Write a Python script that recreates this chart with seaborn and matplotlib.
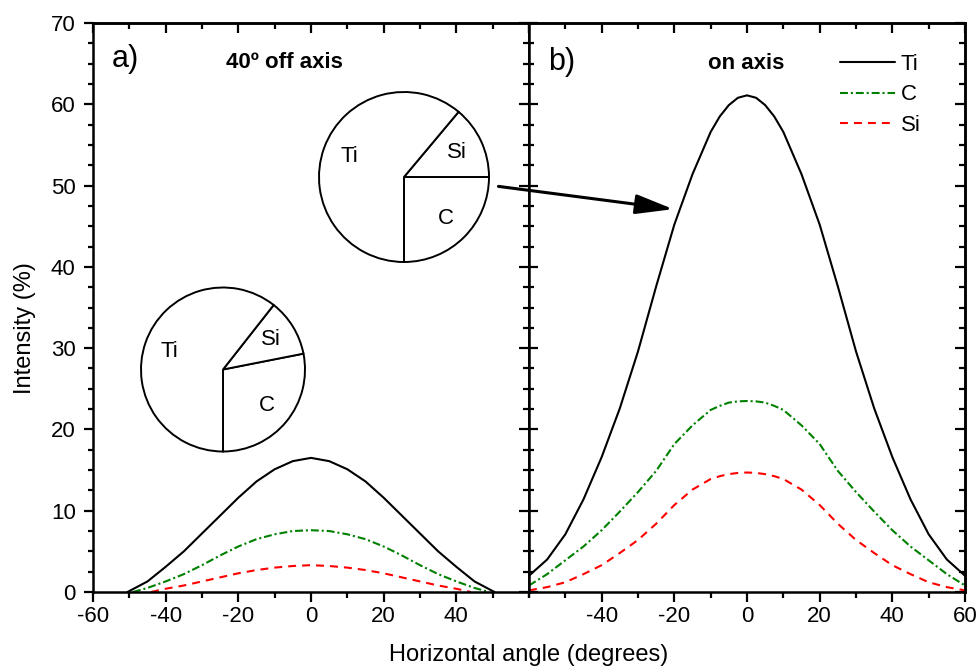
import pandas as pd
import matplotlib
matplotlib.use('Agg')
import matplotlib.pyplot as plt
from matplotlib.ticker import MultipleLocator, NullFormatter
import seaborn as sns

sns.set_style('ticks')
plt.rcParams['font.family'] = ['Liberation Sans', 'DejaVu Sans']
plt.rcParams['axes.unicode_minus'] = False
for key in ['text.color', 'axes.labelcolor', 'xtick.color', 'ytick.color', 'axes.edgecolor']:
    plt.rcParams[key] = 'black'

elements = ['Ti', 'C', 'Si']
colors = {'Ti': 'black', 'C': '#008000', 'Si': '#ff0000'}
dash_map = {'Ti': '', 'C': (3.8, 1.4, 1.0, 1.4), 'Si': (3.8, 2.9)}

# panel a) 40 deg off axis
ti_a_x = [-50.5, -45, -40, -35, -30, -25, -20, -15, -10, -5, 0, 5, 10, 15, 20, 25, 30, 35, 40, 45, 50.5]
ti_a = [0, 1.3, 3.1, 5.0, 7.2, 9.4, 11.6, 13.6, 15.1, 16.1, 16.5, 16.1, 15.1, 13.6, 11.6, 9.4, 7.2, 5.0, 3.1, 1.3, 0]
c_a_x = [-49, -45, -40, -35, -30, -25, -20, -15, -10, -5, 0, 5, 10, 15, 20, 25, 30, 35, 40, 45, 49]
c_a = [0, 0.5, 1.3, 2.2, 3.3, 4.5, 5.6, 6.5, 7.1, 7.5, 7.6, 7.5, 7.1, 6.5, 5.6, 4.5, 3.3, 2.2, 1.3, 0.5, 0]
si_a_x = [-44, -40, -35, -30, -25, -20, -15, -10, -5, 0, 5, 10, 15, 20, 25, 30, 35, 40, 44]
si_a = [0, 0.4, 0.8, 1.3, 1.8, 2.3, 2.7, 3.0, 3.2, 3.3, 3.2, 3.0, 2.7, 2.3, 1.8, 1.3, 0.8, 0.4, 0]

# panel b) on axis
angle_b = [-60, -55, -50, -45, -40, -35, -30, -25, -20, -15, -10, -7.5, -5, -2.5, 0,
           2.5, 5, 7.5, 10, 15, 20, 25, 30, 35, 40, 45, 50, 55, 60]
ti_b = [2.0, 4.0, 7.1, 11.4, 16.6, 22.6, 29.6, 37.6, 45.2, 51.4, 56.6, 58.5, 59.9, 60.8, 61.1,
        60.8, 59.9, 58.5, 56.6, 51.4, 45.2, 37.6, 29.6, 22.6, 16.6, 11.4, 7.1, 4.0, 2.0]
c_b = [0.8, 2.2, 3.9, 5.6, 7.6, 9.9, 12.3, 14.9, 18.2, 20.5, 22.4, 22.9, 23.3, 23.45, 23.5,
       23.45, 23.3, 22.9, 22.4, 20.5, 18.2, 14.9, 12.3, 9.9, 7.6, 5.6, 3.9, 2.2, 0.8]
si_b = [0.2, 0.6, 1.2, 2.2, 3.3, 4.8, 6.4, 8.4, 10.7, 12.6, 13.9, 14.25, 14.5, 14.65, 14.7,
        14.65, 14.5, 14.25, 13.9, 12.6, 10.7, 8.4, 6.4, 4.8, 3.3, 2.2, 1.2, 0.6, 0.2]

# pie insets: share of each element (order C, Si, Ti)
pie_labels = ['C', 'Si', 'Ti']
pie_off_axis = [28.1, 11.3, 60.6]
pie_on_axis = [25.0, 13.9, 61.1]


def long_df(parts):
    frames = [pd.DataFrame({'angle': x, 'intensity': y, 'element': name}) for name, x, y in parts]
    return pd.concat(frames, ignore_index=True)


df_a = long_df([('Ti', ti_a_x, ti_a), ('C', c_a_x, c_a), ('Si', si_a_x, si_a)])
df_b = long_df([('Ti', angle_b, ti_b), ('C', angle_b, c_b), ('Si', angle_b, si_b)])

W, H = 978, 671
fig = plt.figure(figsize=(W / 100, H / 100), dpi=100)
ax_a = fig.add_axes([93 / W, 1 - 592 / H, 436 / W, 569 / H])
ax_b = fig.add_axes([529 / W, 1 - 592 / H, 436 / W, 569 / H])

for ax, df, show_leg in [(ax_a, df_a, False), (ax_b, df_b, True)]:
    sns.lineplot(data=df, x='angle', y='intensity', hue='element', style='element',
                 hue_order=elements, style_order=elements, palette=colors, dashes=dash_map,
                 linewidth=1.5, estimator=None, sort=False, legend=show_leg, ax=ax)


def style_axes(ax, xticks, left_dir, show_ylabels):
    ax.set_xlim(-60, 60)
    ax.set_ylim(0, 70)
    ax.set_xlabel('')
    ax.set_ylabel('')
    ax.set_xticks(xticks)
    ax.xaxis.set_minor_locator(MultipleLocator(10))
    ax.yaxis.set_major_locator(MultipleLocator(10))
    ax.yaxis.set_minor_locator(MultipleLocator(2.5))
    ax.tick_params(axis='x', which='major', direction='out', length=7, width=1.6, labelsize=16, pad=3)
    ax.tick_params(axis='x', which='minor', direction='out', length=4.5, width=1.6)
    ax.tick_params(axis='y', which='major', direction=left_dir, length=6.5, width=1.6,
                   labelsize=16, pad=6, labelleft=show_ylabels)
    ax.tick_params(axis='y', which='minor', direction=left_dir, length=3.8, width=1.6)
    for s in ax.spines.values():
        s.set_linewidth(1.8)
    top = ax.secondary_xaxis('top')
    top.set_xticks(range(-60, 61, 20))
    top.xaxis.set_minor_locator(MultipleLocator(10))
    top.xaxis.set_major_formatter(NullFormatter())
    top.tick_params(which='major', direction='in', length=7, width=1.6)
    top.tick_params(which='minor', direction='in', length=4.5, width=1.6)
    top.spines['top'].set_linewidth(1.8)
    right = ax.secondary_yaxis('right')
    right.yaxis.set_major_locator(MultipleLocator(10))
    right.yaxis.set_minor_locator(MultipleLocator(2.5))
    right.yaxis.set_major_formatter(NullFormatter())
    right.tick_params(which='major', direction='in', length=7.5, width=1.6)
    right.tick_params(which='minor', direction='in', length=4.2, width=1.6)
    right.spines['right'].set_linewidth(1.8)


style_axes(ax_a, [-60, -40, -20, 0, 20, 40], 'out', True)
style_axes(ax_b, [-40, -20, 0, 20, 40, 60], 'in', False)

# legend on panel b
handles, labels = ax_b.get_legend_handles_labels()
pairs = [(h, l) for h, l in zip(handles, labels) if l in elements]
ax_b.legend([p[0] for p in pairs], [p[1] for p in pairs], loc='upper left',
            bbox_to_anchor=(0.713, 0.946), frameon=False, fontsize=16, borderpad=0,
            borderaxespad=0, handlelength=2.5, handletextpad=0.25, labelspacing=0.43)

# panel annotations
ax_a.text(0.044, 0.937, 'a)', transform=ax_a.transAxes, fontsize=22, va='center', ha='left')
ax_a.text(0.439, 0.930, '40º off axis', transform=ax_a.transAxes, fontsize=16,
          fontweight='bold', va='center', ha='center')
ax_b.text(0.044, 0.931, 'b)', transform=ax_b.transAxes, fontsize=22, va='center', ha='left')
ax_b.text(0.498, 0.928, 'on axis', transform=ax_b.transAxes, fontsize=16,
          fontweight='bold', va='center', ha='center')

fig.text(529 / W, 1 - 655 / H, 'Horizontal angle (degrees)', ha='center', va='center', fontsize=17)
fig.text(25 / W, 1 - 328 / H, 'Intensity (%)', rotation=90, ha='center', va='center', fontsize=17)


def pie_inset(cx, cy, r, values):
    m = 1.03
    size = 2 * r * m
    pax = fig.add_axes([(cx - r * m) / W, 1 - (cy + r * m) / H, size / W, size / H])
    wedges, texts = pax.pie(values, labels=pie_labels, startangle=-90, counterclock=True,
                            labeldistance=0.69,
                            wedgeprops=dict(facecolor='white', edgecolor='black', linewidth=1.4),
                            textprops=dict(fontsize=16))
    for t in texts:
        t.set_ha('center')
        t.set_va('center')
    pax.set_xlim(-m, m)
    pax.set_ylim(-m, m)
    pax.set_axis_off()
    return pax


pie_inset(404, 177, 85, pie_on_axis)
pie_inset(223, 369.5, 82, pie_off_axis)

# arrow from the on-axis pie to the panel b peak
ax_b.annotate('', xy=(-20.3, 47.1), xycoords='data', xytext=(51.6, 49.9),
              textcoords=ax_a.transData, annotation_clip=False,
              arrowprops=dict(arrowstyle='-|>,head_length=1.15,head_width=0.3', color='black',
                              lw=2.2, shrinkA=0, shrinkB=0, mutation_scale=20))

fig.savefig('out.png', dpi=100)
